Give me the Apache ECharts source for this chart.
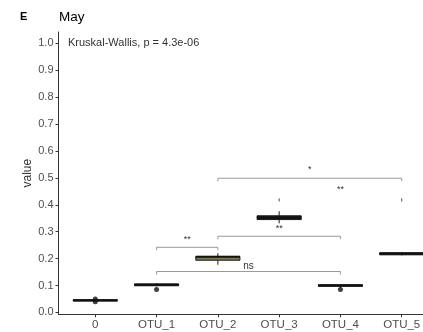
<!DOCTYPE html>
<html>
<head>
<meta charset="utf-8">
<script src="https://cdn.jsdelivr.net/npm/echarts@6/dist/echarts.min.js"></script>
<style>
html,body{margin:0;padding:0;background:#fff;}
#c{width:423px;height:332px;}
</style>
</head>
<body>
<div id="c"></div>
<script>
// ---- data ----
var categories = ['0', 'OTU_1', 'OTU_2', 'OTU_3', 'OTU_4', 'OTU_5'];
var whiskerLow  = [0.040, 0.097, 0.177, 0.331, 0.091, 0.212];
var q1          = [0.042, 0.099, 0.194, 0.345, 0.097, 0.214];
var medians     = [0.045, 0.103, 0.207, 0.352, 0.100, 0.218];
var q3          = [0.047, 0.106, 0.208, 0.359, 0.103, 0.222];
var whiskerHigh = [0.049, 0.109, 0.220, 0.376, 0.104, 0.224];
var boxFill     = ['#1a1a1a', '#1a1a1a', '#7d7a48', '#1a1a1a', '#1a1a1a', '#1a1a1a'];
var outliers = [[0, 0.050], [0, 0.040], [1, 0.085], [4, 0.085]];

// significance brackets
var bracketFrom  = [1, 1, 2, 2];
var bracketTo    = [2, 4, 4, 5];
var bracketY     = [0.242, 0.152, 0.283, 0.4985];
var bracketLabel = ['**', 'ns', '**', '*'];
var bracketLabelY= [0.272, 0.170, 0.312, 0.530];
// lone tip marks and extra label (OTU_3 vs OTU_5)
var tipX = [3, 5];
var tipY = [0.418, 0.418];
var extraLabelX = [4];
var extraLabelY = [0.455];
var extraLabel  = ['**'];

var yTicks = [0, 0.1, 0.2, 0.3, 0.4, 0.5, 0.6, 0.7, 0.8, 0.9, 1.0];
var xTicks = [0, 1, 2, 3, 4, 5];

var boxData = categories.map(function (c, i) {
  return [i, whiskerLow[i], q1[i], medians[i], q3[i], whiskerHigh[i]];
});
var bracketData = bracketFrom.map(function (f, i) {
  return [f, bracketTo[i], bracketY[i]];
});
var labelData = bracketFrom.map(function (f, i) {
  return [(f + bracketTo[i]) / 2, bracketLabelY[i], bracketLabel[i]];
}).concat(extraLabelX.map(function (x, i) {
  return [x, extraLabelY[i], extraLabel[i]];
}));
var tipData = tipX.map(function (x, i) { return [x, tipY[i]]; });

var chart = echarts.init(document.getElementById('c'), null, {renderer: 'canvas'});
var FONT = 'Liberation Sans, Arial, sans-serif';
var HALF = 0.36;

chart.setOption({
  animation: false,
  backgroundColor: '#fff',
  grid: {left: 58.5, top: 32, width: 380, height: 282.3, outerBoundsMode: 'none', containLabel: false},
  graphic: [
    {type: 'text', left: 20, top: 11, style: {text: 'E', font: 'bold 11px ' + FONT, fill: '#000'}},
    {type: 'text', left: 59, top: 10, style: {text: 'May', font: '13.5px ' + FONT, fill: '#000'}},
    {type: 'text', left: 68, top: 37, style: {text: 'Kruskal-Wallis, p = 4.3e-06', font: '11px ' + FONT, fill: '#333'}}
  ],
  xAxis: {
    type: 'value', min: -0.6, max: 5.6,
    splitLine: {show: false},
    axisLine: {show: true, onZero: false, lineStyle: {color: '#333', width: 1}},
    axisTick: {show: true, length: 3, customValues: xTicks, lineStyle: {color: '#333'}},
    axisLabel: {customValues: xTicks, margin: 5, color: '#4d4d4d', fontSize: 11.5, fontFamily: FONT,
      formatter: function (v) { return categories[Math.round(v)]; }}
  },
  yAxis: {
    type: 'value', min: -0.007, max: 1.042,
    name: 'value', nameLocation: 'middle', nameGap: 25, nameRotate: 90, nameMoveOverlap: false,
    nameTextStyle: {color: '#333', fontSize: 12, fontFamily: FONT},
    splitLine: {show: false},
    axisLine: {show: true, onZero: false, lineStyle: {color: '#333', width: 1}},
    axisTick: {show: true, length: 3, customValues: yTicks, lineStyle: {color: '#333'}},
    axisLabel: {customValues: yTicks, margin: 5, color: '#4d4d4d', fontSize: 11, fontFamily: FONT,
      formatter: function (v) { return v.toFixed(1); }}
  },
  series: [
    {
      type: 'custom',
      data: boxData,
      renderItem: function (params, api) {
        var i = api.value(0);
        var lo = api.value(1), a = api.value(2), m = api.value(3), b = api.value(4), hi = api.value(5);
        var pTop = api.coord([i - HALF, b]);
        var pBot = api.coord([i + HALF, a]);
        var pm1 = api.coord([i - HALF, m]);
        var pm2 = api.coord([i + HALF, m]);
        var w1 = api.coord([i, hi]), w2 = api.coord([i, b]);
        var w3 = api.coord([i, a]), w4 = api.coord([i, lo]);
        return {
          type: 'group',
          children: [
            {type: 'line', shape: {x1: w1[0], y1: w1[1], x2: w2[0], y2: w2[1]}, style: {stroke: '#1a1a1a', lineWidth: 1}},
            {type: 'line', shape: {x1: w3[0], y1: w3[1], x2: w4[0], y2: w4[1]}, style: {stroke: '#1a1a1a', lineWidth: 1}},
            {type: 'rect', shape: {x: pTop[0], y: pTop[1], width: pBot[0] - pTop[0], height: Math.max(pBot[1] - pTop[1], 1)},
              style: {fill: boxFill[i], stroke: '#1a1a1a', lineWidth: 1}},
            {type: 'line', shape: {x1: pm1[0], y1: pm1[1], x2: pm2[0], y2: pm2[1]}, style: {stroke: '#111', lineWidth: 2}}
          ]
        };
      },
      clip: false,
      z: 3
    },
    {
      type: 'scatter',
      data: outliers,
      symbol: 'circle', symbolSize: 5,
      itemStyle: {color: '#111'},
      z: 4
    },
    {
      type: 'custom',
      data: bracketData,
      renderItem: function (params, api) {
        var f = api.value(0), t = api.value(1), y = api.value(2);
        var tip = 0.011;
        var p1 = api.coord([f, y - tip]), p2 = api.coord([f, y]);
        var p3 = api.coord([t, y]), p4 = api.coord([t, y - tip]);
        return {type: 'polyline', shape: {points: [p1, p2, p3, p4]},
          style: {stroke: '#9a9a9a', lineWidth: 1, fill: null}};
      },
      z: 2
    },
    {
      type: 'custom',
      data: tipData,
      renderItem: function (params, api) {
        var x = api.value(0), y = api.value(1);
        var p1 = api.coord([x, y + 0.006]), p2 = api.coord([x, y - 0.006]);
        return {type: 'line', shape: {x1: p1[0], y1: p1[1], x2: p2[0], y2: p2[1]},
          style: {stroke: '#555', lineWidth: 1}};
      },
      z: 2
    },
    {
      type: 'custom',
      data: labelData,
      renderItem: function (params, api) {
        var p = api.coord([api.value(0), api.value(1)]);
        var txt = labelData[params.dataIndex][2];
        return {type: 'text', x: p[0], y: p[1],
          style: {text: txt, font: (txt === 'ns' ? '10px ' : '9px ') + FONT, fill: '#333',
            align: 'center', verticalAlign: 'middle'}};
      },
      z: 5
    }
  ]
});
</script>
</body>
</html>
